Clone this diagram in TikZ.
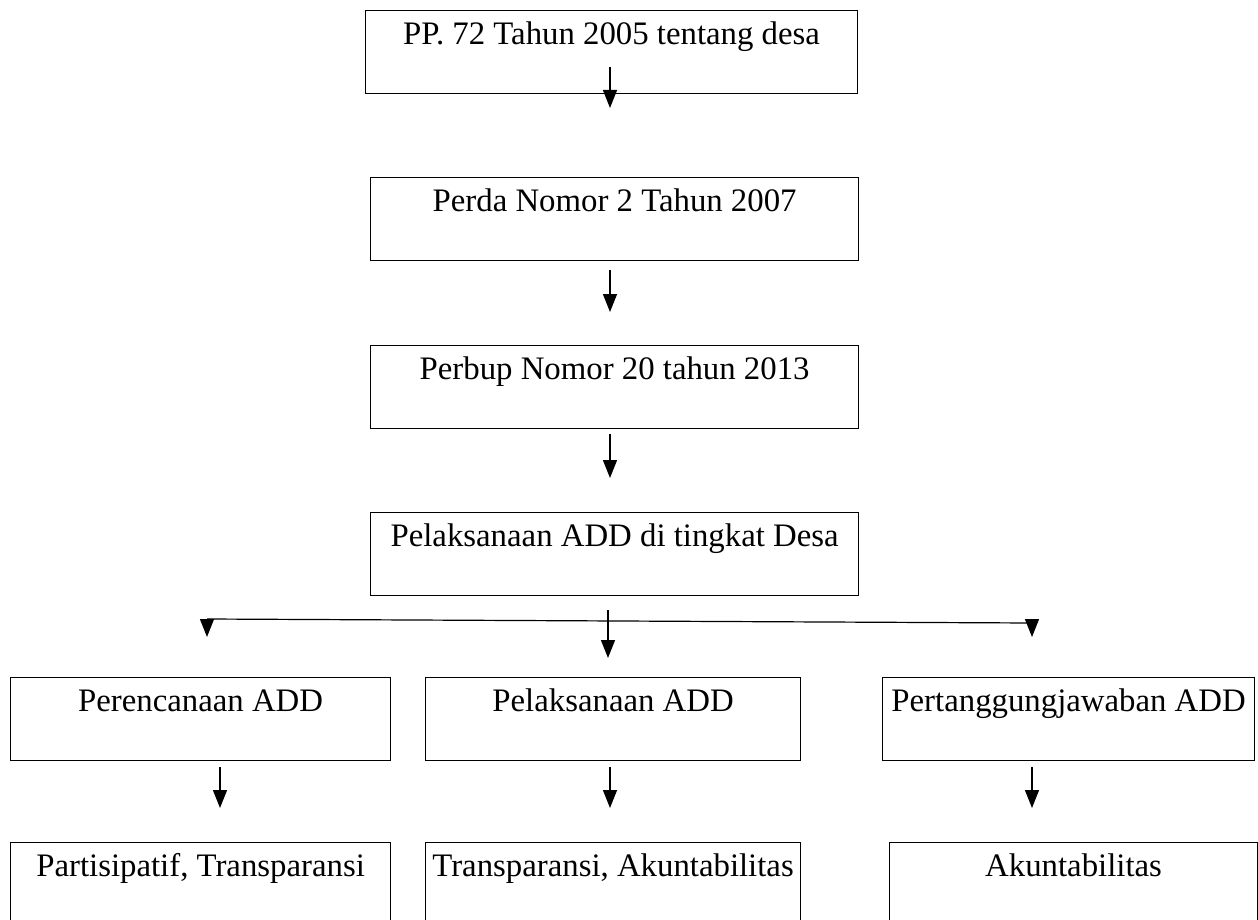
\documentclass[tikz,border=0pt]{standalone}
\usepackage{fontspec}
\setmainfont{Liberation Serif}
\usetikzlibrary{arrows.meta}
\begin{document}
\begin{tikzpicture}[x=0.5pt,y=-0.5pt,
  boxnode/.style={draw, line width=0.6pt, anchor=north west, inner sep=0pt,
    text height=16.8pt, text depth=24.7pt, align=center,
    font=\fontsize{16.4pt}{19pt}\selectfont},
  conn/.style={line width=0.6pt, -{Triangle[length=9pt,width=7pt]}},
  plain/.style={line width=0.6pt}]
\useasboundingbox (0,0) rectangle (1258,920);
\node[boxnode, minimum width=246pt] (b1) at (365,10) {PP. 72 Tahun 2005 tentang desa};
\node[boxnode, minimum width=244pt] (b2) at (370,177) {Perda Nomor 2 Tahun 2007};
\node[boxnode, minimum width=244pt] (b3) at (370,345) {Perbup Nomor 20 tahun 2013};
\node[boxnode, minimum width=244pt] (b4) at (370,512) {Pelaksanaan ADD di tingkat Desa};
\node[boxnode, minimum width=190pt] (c1) at (10,677) {Perencanaan ADD};
\node[boxnode, minimum width=187.5pt] (c2) at (425,677) {Pelaksanaan ADD};
\node[boxnode, minimum width=186pt] (c3) at (882,677) {Pertanggungjawaban ADD};
\node[boxnode, minimum width=190pt] (d1) at (10,842) {Partisipatif, Transparansi};
\node[boxnode, minimum width=187.5pt] (d2) at (425,842) {Transparansi, Akuntabilitas};
\node[boxnode, minimum width=184pt] (d3) at (889,842) {Akuntabilitas};
% arrows
\coordinate (a1s) at (610,67); \coordinate (a1e) at (610,108);
\coordinate (a2s) at (610,270); \coordinate (a2e) at (610,312);
\coordinate (a3s) at (610,434); \coordinate (a3e) at (610,478);
\coordinate (m0) at (608,610); \coordinate (m1) at (608,658);
\coordinate (hl) at (207,619); \coordinate (hr) at (1032,623);
\coordinate (hle) at (207,637); \coordinate (hre) at (1032,637);
\coordinate (r1s) at (220,767); \coordinate (r1e) at (220,808);
\coordinate (r2s) at (610,767); \coordinate (r2e) at (610,808);
\coordinate (r3s) at (1032,767); \coordinate (r3e) at (1032,808);
\draw[conn] (a1s) -- (a1e);
\draw[conn] (a2s) -- (a2e);
\draw[conn] (a3s) -- (a3e);
\draw[conn] (m0) -- (m1);
\draw[plain] (hl) -- (hr);
\draw[conn] (hl) -- (hle);
\draw[conn] (hr) -- (hre);
\draw[conn] (r1s) -- (r1e);
\draw[conn] (r2s) -- (r2e);
\draw[conn] (r3s) -- (r3e);
\end{tikzpicture}
\end{document}
